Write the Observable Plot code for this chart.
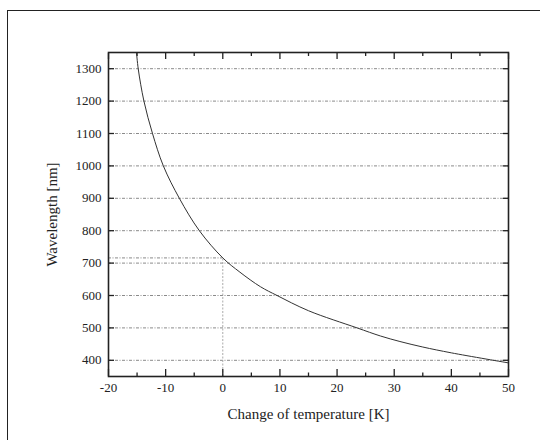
<!DOCTYPE html>
<html>
<head>
<meta charset="utf-8">
<script src="https://cdn.jsdelivr.net/npm/d3@7"></script>
<script src="https://cdn.jsdelivr.net/npm/@observablehq/plot@0.6"></script>
<style>
  html, body { margin: 0; padding: 0; background: #fff; overflow: hidden; width: 540px; height: 440px; }
  #wrap { position: relative; width: 540px; height: 440px; }
  #border { position: absolute; left: 7px; top: 10px; width: 600px; height: 500px; border: 1px solid #222; box-sizing: border-box; }
  #chart { position: absolute; left: 0; top: 0; }
  #chart svg text { font-family: "Liberation Serif", "Times New Roman", serif; }
</style>
</head>
<body>
<div id="wrap"><div id="border"></div><div id="chart"></div></div>
<script>
// Data
const temperatureK = [-15.1, -14.8, -13.8, -12.3, -10.4, -7.6, -4.1, 0, 3, 6.6, 9.5, 15, 23.5, 27.6, 31, 35, 40, 50];
const wavelengthNm = [1350, 1300, 1200, 1100, 1000, 900, 800, 716, 672, 627, 600, 553, 500, 475, 458, 441, 423, 392];
const guideT = [0];
const guideWavelength = [716];
const xMajorTicks = [-20, -10, 0, 10, 20, 30, 40, 50];
const xMinorTicks = [-15, -5, 5, 15, 25, 35, 45];
const yTicks = [400, 500, 600, 700, 800, 900, 1000, 1100, 1200, 1300];
const xLabel = "Change of temperature [K]";
const yLabel = "Wavelength [nm]";

const data = temperatureK.map((t, i) => ({t, w: wavelengthNm[i]}));
const font = "Liberation Serif, Times New Roman, serif";
const ink = "#222";
const plain = d => String(d);

const chart = Plot.plot({
  width: 540,
  height: 440,
  marginLeft: 108,
  marginRight: 32,
  marginTop: 52,
  marginBottom: 64,
  style: {fontFamily: font, fontSize: "13px", color: ink, background: "transparent"},
  x: {domain: [-20, 50]},
  y: {domain: [350, 1350]},
  marks: [
    Plot.gridY(yTicks, {stroke: "#8a8a8a", strokeOpacity: 1, strokeWidth: 1, strokeDasharray: "3,1.5,1,1.5"}),
    Plot.ruleX(guideT, {y1: 350, y2: guideWavelength[0], stroke: "#aaa", strokeDasharray: "2,1.5"}),
    Plot.ruleY(guideWavelength, {x1: -20, x2: guideT[0], stroke: "#8a8a8a", strokeDasharray: "3,1.5,1,1.5"}),
    Plot.line(data, {x: "t", y: "w", curve: "catmull-rom", stroke: "#333", strokeWidth: 1, clip: true}),
    // inward ticks
    Plot.axisX(xMajorTicks, {anchor: "bottom", tickSize: -7, tickFormat: () => "", label: null, stroke: ink, strokeWidth: 1.3}),
    Plot.axisX(xMinorTicks, {anchor: "bottom", tickSize: -3.5, tickFormat: () => "", label: null, stroke: ink, strokeWidth: 1.3}),
    Plot.axisX(xMajorTicks, {anchor: "top", tickSize: -6, tickFormat: () => "", label: null, stroke: ink, strokeWidth: 1.3}),
    Plot.axisX(xMinorTicks, {anchor: "top", tickSize: -3, tickFormat: () => "", label: null, stroke: ink, strokeWidth: 1.3}),
    Plot.axisY(yTicks, {anchor: "left", tickSize: -6, tickFormat: () => "", label: null, stroke: ink, strokeWidth: 1.3}),
    Plot.axisY(yTicks, {anchor: "right", tickSize: -6, tickFormat: () => "", label: null, stroke: ink, strokeWidth: 1.3}),
    // labels
    Plot.axisX(xMajorTicks, {anchor: "bottom", tickSize: 0, tickPadding: 6, tickFormat: plain, fill: ink, fontSize: 13,
      label: xLabel, labelAnchor: "center", labelArrow: "none", labelOffset: 42}),
    Plot.axisY(yTicks, {anchor: "left", tickSize: 0, tickPadding: 7, tickFormat: plain, fill: ink, fontSize: 13,
      label: yLabel, labelAnchor: "center", labelArrow: "none", labelOffset: 62}),
    Plot.frame({stroke: ink, strokeWidth: 1.6})
  ]
});
// enlarge axis titles
chart.querySelectorAll("[aria-label$='-axis label'] text, [aria-label$='-axis label']").forEach(el => {
  el.setAttribute("font-size", "15");
});
document.getElementById("chart").appendChild(chart);
</script>
</body>
</html>
